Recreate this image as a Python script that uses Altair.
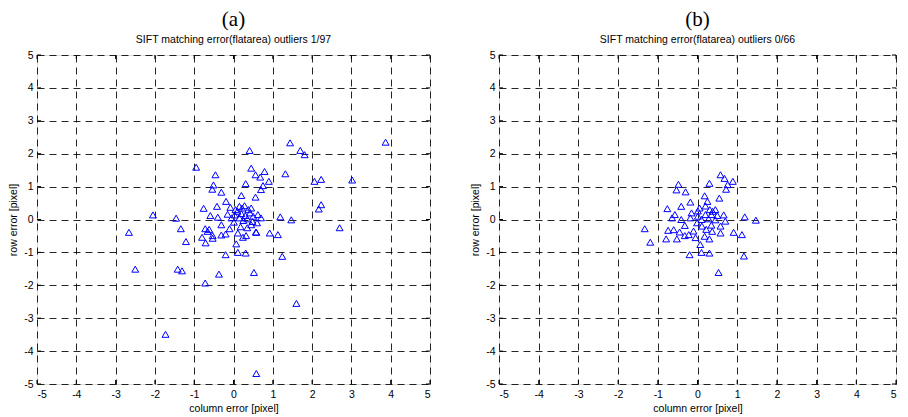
import altair as alt
import pandas as pd

ticks = [-5, -4, -3, -2, -1, 0, 1, 2, 3, 4, 5]

panel_titles = ["(a)", "(b)"]
panel_subtitles = [
    "SIFT matching error(flatarea) outliers 1/97",
    "SIFT matching error(flatarea) outliers 0/66",
]
x_title = "column error [pixel]"
y_title = "row error [pixel]"

# panel (a): 97 matches (column error, row error)
a_x = [-0.95, -0.46, -0.51, -0.54, -0.31, -0.19, -0.76, -0.42, -0.08, -2.05,
       -1.46, -1.34, -2.66, 0.41, 1.44, 1.70, 1.81, 3.87, 0.45, 0.56,
       0.79, 0.68, 0.90, 0.31, 0.75, 0.70, 1.32, 2.06, 2.23, 3.02,
       0.20, 0.56, 2.23, 2.17, 1.19, 1.47, 2.70, 0.92, 1.13, 0.58,
       0.07, 0.24, 0.11, 0.31, 1.24, 0.52, 1.60, 0.58, -0.20, -1.21,
       -0.71, -0.80, -0.53, -0.31, -0.72, -0.62, -0.31, -2.50, -1.42, -1.31,
       -0.37, -0.72, -1.73, -0.59, -0.40, -0.15, 0.03, 0.01, -0.66, -0.53,
       -0.20, 0.11, 0.32, 0.45, 0.57, 0.15, 0.22, 0.28, 0.38, 0.10,
       0.20, 0.30, 0.42, 0.50, 0.62, 0.70, 0.15, 0.25, 0.35, 0.48,
       0.60, -0.05, 0.05, 0.35, 0.18, -0.10, 0.45]
a_y = [1.59, 1.36, 1.05, 0.92, 0.83, 0.55, 0.34, 0.40, 0.37, 0.14,
       0.04, -0.28, -0.39, 2.10, 2.33, 2.10, 1.97, 2.35, 1.56, 1.36,
       1.46, 1.29, 1.16, 1.09, 1.03, 0.91, 1.39, 1.16, 1.22, 1.20,
       0.73, 0.68, 0.45, 0.32, 0.08, -0.01, -0.25, -0.41, -0.46, -0.39,
       -0.74, -0.54, -1.00, -1.02, -1.12, -1.61, -2.55, -4.68, -1.07, -0.67,
       -0.71, -0.54, -0.57, -0.47, -0.28, -0.30, -0.16, -1.51, -1.51, -1.56,
       -1.66, -1.93, -3.49, 0.12, 0.07, 0.16, 0.14, -0.08, -0.36, -0.49,
       -0.44, -0.41, -0.49, -0.16, -0.38, 0.40, 0.35, 0.42, 0.30, 0.25,
       0.18, 0.12, 0.20, 0.10, 0.15, 0.05, 0.05, -0.03, 0.02, -0.06,
       -0.10, 0.05, 0.30, -0.25, -0.22, -0.28, 0.35]

# panel (b): 66 matches
b_x = [0.58, 0.68, 0.89, 0.76, 0.30, -0.48, -0.53, -0.30, 0.72, 0.18,
       0.55, -0.18, -0.41, -0.76, 0.20, 0.31, 0.38, 0.01, -0.15, -0.57,
       -0.64, -0.41, -0.18, 0.01, 0.20, 0.35, 0.50, 0.66, 0.10, 0.28,
       0.45, -0.01, -0.32, -1.33, -0.74, -0.60, 0.11, 0.35, 0.58, 0.91,
       0.58, 0.37, -1.19, -0.79, -0.52, -0.32, -0.22, 0.18, 0.30, 0.07,
       -0.20, 0.10, 0.30, 0.53, 1.19, 1.47, 1.12, 1.17, -0.10, 0.22,
       0.05, 0.45, 0.70, -0.05, 0.25, -0.45]
b_y = [1.36, 1.25, 1.16, 1.06, 1.10, 1.07, 0.90, 0.84, 0.92, 0.72,
       0.65, 0.53, 0.40, 0.33, 0.41, 0.30, 0.25, 0.26, 0.20, 0.15,
       0.05, 0.00, 0.05, 0.10, 0.15, 0.15, 0.12, 0.14, 0.00, 0.02,
       -0.01, -0.10, -0.18, -0.28, -0.33, -0.31, -0.20, -0.17, -0.20, -0.39,
       -0.41, -0.36, -0.69, -0.59, -0.59, -0.49, -0.46, -0.51, -0.59, -0.76,
       -1.07, -1.00, -1.02, -1.61, 0.08, -0.02, -0.46, -1.11, -0.35, -0.30,
       0.35, 0.30, -0.05, -0.55, 0.55, -0.38]

H = 329
TICK = 4


def panel(xs, ys, title, subtitle, width):
    sx = alt.Scale(domain=[-5, 5], nice=False, zero=False)
    sy = alt.Scale(domain=[-5, 5], nice=False, zero=False)
    common = dict(values=ticks, tickCount=11, labelOverlap=False, grid=True,
                  gridColor="black", gridDash=[7, 5], gridWidth=1, gridOpacity=0.85,
                  ticks=False, tickSize=0, domain=False,
                  labelExpr="'' + datum.value",
                  labelFont="Liberation Sans", labelFontSize=10.5, labelColor="black",
                  titleFont="Liberation Sans", titleFontSize=10.5,
                  titleFontWeight="normal", titleColor="black")
    xaxis = alt.Axis(title=x_title, labelPadding=5, titlePadding=4, **common)
    yaxis = alt.Axis(title=y_title, labelPadding=4, titlePadding=5, **common)

    df = pd.DataFrame({"x": xs, "y": ys})
    pts = alt.Chart(df).mark_point(
        shape="triangle-up", filled=False, color="#0000ff", size=48, strokeWidth=1, opacity=1
    ).encode(
        x=alt.X("x:Q", scale=sx, axis=xaxis),
        y=alt.Y("y:Q", scale=sy, axis=yaxis),
    )

    tx = pd.DataFrame({"x": ticks})
    ty = pd.DataFrame({"y": ticks})
    rule = dict(color="black", strokeWidth=1)
    t_bottom = alt.Chart(tx).mark_rule(**rule).encode(
        x=alt.X("x:Q", scale=sx, axis=xaxis), y=alt.value(H), y2=alt.value(H - TICK))
    t_top = alt.Chart(tx).mark_rule(**rule).encode(
        x=alt.X("x:Q", scale=sx, axis=xaxis), y=alt.value(0), y2=alt.value(TICK))
    t_left = alt.Chart(ty).mark_rule(**rule).encode(
        y=alt.Y("y:Q", scale=sy, axis=yaxis), x=alt.value(0), x2=alt.value(TICK))
    t_right = alt.Chart(ty).mark_rule(**rule).encode(
        y=alt.Y("y:Q", scale=sy, axis=yaxis), x=alt.value(width), x2=alt.value(width - TICK))

    return alt.layer(pts, t_bottom, t_top, t_left, t_right).properties(
        width=width, height=H,
        title=alt.TitleParams(
            text=title, subtitle=subtitle, font="Liberation Serif", fontSize=21,
            fontWeight="normal", color="black", subtitleFont="Liberation Sans",
            subtitleFontSize=10.5, subtitleColor="black", subtitlePadding=5,
            offset=5, anchor="middle", frame="group"),
    )


pa = panel(a_x, a_y, panel_titles[0], panel_subtitles[0], 393)
pb = panel(b_x, b_y, panel_titles[1], panel_subtitles[1], 397)

chart = alt.hconcat(pa, pb, spacing=39).properties(
    padding={"left": 0, "top": 0, "right": 0, "bottom": 0}
).configure_view(stroke="black", strokeWidth=1).configure(background="white")

chart.save("out.html", embed_options={"renderer": "svg", "actions": False})
